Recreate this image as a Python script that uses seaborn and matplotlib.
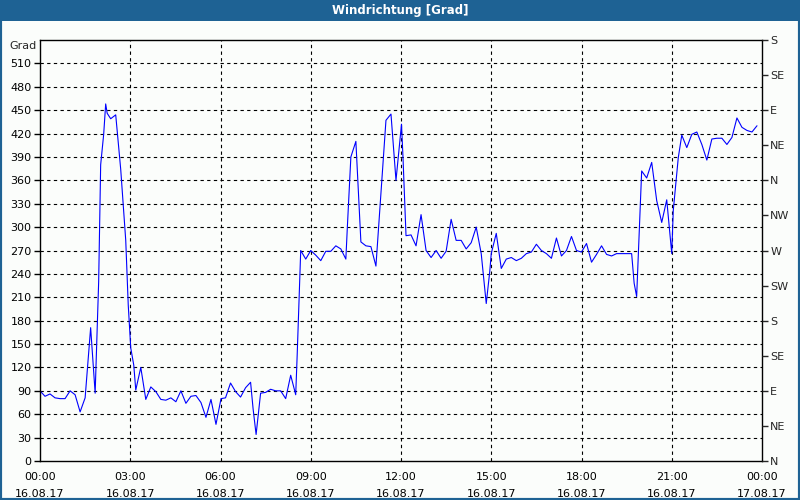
import numpy as np
import pandas as pd
import matplotlib
matplotlib.use("Agg")
import matplotlib.pyplot as plt
import seaborn as sns
from matplotlib.patches import Rectangle
from matplotlib.ticker import MultipleLocator

# Messzeitpunkte (Minuten ab 16.08.17 00:00) und Windrichtung in Grad
minutes = [0, 10, 20, 30, 40, 50, 60, 70, 80, 90, 101, 110, 117, 121, 127, 131,
           134, 141, 151, 161, 171, 176, 181, 187, 191, 201, 211, 221, 231, 241,
           251, 261, 271, 281, 291, 301, 311, 321, 331, 341, 351, 361, 370, 380,
           390, 400, 410, 420, 425, 431, 440, 450, 460, 470, 480, 490, 500, 510,
           513, 517, 520, 530, 540, 550, 560, 570, 580, 590, 600, 610, 613, 620,
           630, 640, 650, 660, 670, 690, 700, 710, 721, 724, 730, 740, 750, 760,
           770, 780, 790, 800, 810, 820, 830, 840, 850, 860, 870, 880, 890, 897,
           900, 910, 920, 930, 940, 950, 960, 970, 980, 990, 1000, 1010, 1020,
           1030, 1040, 1050, 1060, 1070, 1080, 1090, 1100, 1110, 1120, 1130, 1140,
           1150, 1160, 1170, 1180, 1185, 1190, 1200, 1210, 1220, 1230, 1240, 1250,
           1257, 1260, 1263, 1273, 1280, 1290, 1300, 1310, 1320, 1330, 1340, 1350,
           1360, 1370, 1380, 1390, 1400, 1410, 1420, 1430]
grad = [90, 83, 86, 81, 80, 80, 90, 85, 63, 81, 171, 87, 230, 380, 419, 458,
        446, 439, 444, 374, 283, 200, 145, 123, 91, 120, 79, 95, 89, 79,
        78, 81, 76, 90, 74, 83, 84, 75, 56, 79, 47, 80, 81, 100,
        89, 82, 94, 101, 67, 34, 87, 88, 92, 90, 90, 80, 110, 85,
        137, 213, 270, 259, 270, 264, 257, 269, 269, 276, 272, 259, 300, 390,
        410, 281, 276, 275, 250, 437, 445, 360, 432, 389, 289, 290, 276, 316,
        270, 261, 270, 260, 269, 310, 283, 283, 272, 280, 300, 266, 202, 243,
        266, 292, 247, 259, 261, 257, 260, 266, 268, 278, 270, 266, 260,
        286, 263, 270, 288, 270, 268, 279, 255, 265, 276, 265, 263,
        266, 266, 266, 266, 228, 211, 372, 363, 383, 334, 306, 335,
        286, 266, 321, 389, 418, 402, 419, 422, 406, 386, 413, 414,
        414, 406, 415, 440, 428, 424, 422, 430]

hour_ticks = [0, 3, 6, 9, 12, 15, 18, 21, 24]
hour_labels = ["00:00\n16.08.17", "03:00\n16.08.17", "06:00\n16.08.17",
               "09:00\n16.08.17", "12:00\n16.08.17", "15:00\n16.08.17",
               "18:00\n16.08.17", "21:00\n16.08.17", "00:00\n17.08.17"]
grad_ticks = list(range(0, 540, 30))
compass_ticks = list(range(0, 541, 45))
compass_labels = ["N", "NE", "E", "SE", "S", "SW", "W", "NW", "N", "NE", "E", "SE", "S"]

bar_blue = "#1e6294"
bg = "#fbfdfb"

sns.set_style("white")
plt.rcParams["font.family"] = ["DejaVu Sans"]

fig = plt.figure(figsize=(8, 5), dpi=100, facecolor=bg)
ax = fig.add_axes([40 / 800, 39 / 500, 722 / 800, 421 / 500])
ax.set_facecolor(bg)

df = pd.DataFrame({"stunde": np.array(minutes) / 60.0, "grad": grad})
sns.lineplot(data=df, x="stunde", y="grad", ax=ax, color="#0000ff", lw=0.8)

ax.set_xlim(0, 24)
ax.set_ylim(0, 540)
ax.set_xlabel("")
ax.set_ylabel("")

ax.set_xticks(hour_ticks)
ax.set_xticklabels(hour_labels, fontsize=8, linespacing=1.8)
ax.xaxis.set_minor_locator(MultipleLocator(1))
ax.set_yticks(grad_ticks)
ax.set_yticklabels([str(v) for v in grad_ticks], fontsize=8)
ax.tick_params(axis="both", which="both", direction="out", length=4, width=1,
               color="black", labelcolor="black", pad=2)
ax.tick_params(axis="x", which="minor", length=4, width=1)
ax.tick_params(axis="x", which="major", pad=4)

for v in grad_ticks[1:]:
    ax.axhline(v, color="black", lw=0.8, ls=(0, (3, 3)), zorder=0)
for h in hour_ticks[1:-1]:
    ax.axvline(h, color="black", lw=0.8, ls=(0, (3, 3)), zorder=0)

for s in ax.spines.values():
    s.set_color("black")
    s.set_linewidth(1)

ax2 = ax.twinx()
ax2.set_ylim(0, 540)
ax2.set_yticks(compass_ticks)
ax2.set_yticklabels(compass_labels, fontsize=8)
ax2.tick_params(axis="y", direction="out", length=4, width=1, pad=2)
for s in ax2.spines.values():
    s.set_visible(False)

fig.text(37 / 800, 1 - 46 / 500, "Grad", fontsize=8, ha="right", va="center")

# Titelleiste und Rahmen
fig.patches.append(Rectangle((0, 1 - 21 / 500), 1, 21 / 500, transform=fig.transFigure,
                             facecolor=bar_blue, edgecolor="none", zorder=0))
fig.text(0.5, 1 - 10.5 / 500, "Windrichtung [Grad]", color="white", fontsize=8.5,
         fontweight="bold", ha="center", va="center")
fig.patches.append(Rectangle((0, 0), 1, 1, transform=fig.transFigure, fill=False,
                             edgecolor=bar_blue, linewidth=3, zorder=5))

fig.savefig("out.png", dpi=100, facecolor=bg)
